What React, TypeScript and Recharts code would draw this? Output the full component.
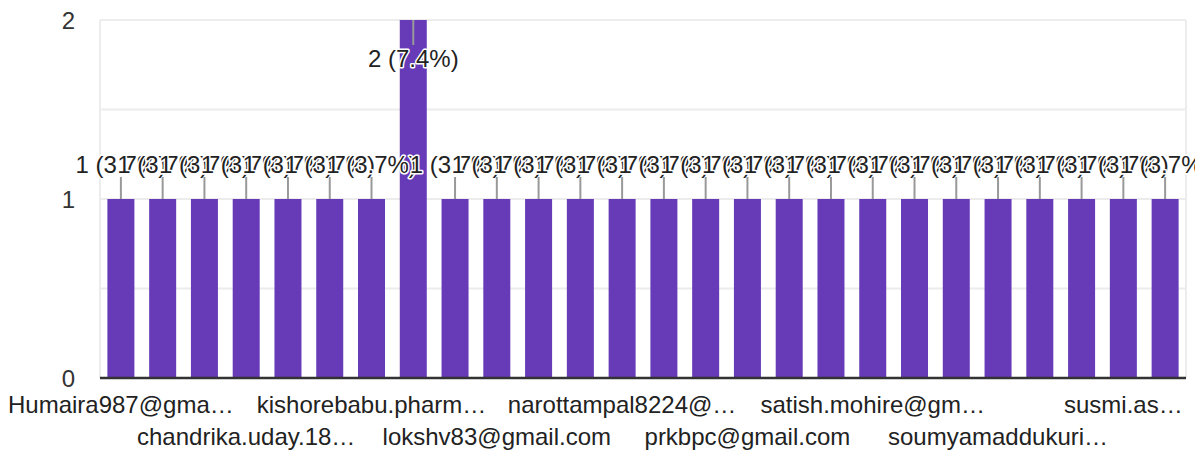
import React from "react";
import { BarChart, Bar, XAxis, YAxis, CartesianGrid, LabelList } from "recharts";

// Categories (respondents). Only every third label is visible in the reference;
// the hidden ones are placeholders because they cannot be read.
const categories: string[] = [
  "Humaira987@gma…",
  "respondent-02",
  "respondent-03",
  "chandrika.uday.18…",
  "respondent-05",
  "respondent-06",
  "kishorebabu.pharm…",
  "respondent-08",
  "respondent-09",
  "lokshv83@gmail.com",
  "respondent-11",
  "respondent-12",
  "narottampal8224@…",
  "respondent-14",
  "respondent-15",
  "prkbpc@gmail.com",
  "respondent-17",
  "respondent-18",
  "satish.mohire@gm…",
  "respondent-20",
  "respondent-21",
  "soumyamaddukuri…",
  "respondent-23",
  "respondent-24",
  "susmi.as…",
  "respondent-26",
];

const responses: number[] = [1, 1, 1, 1, 1, 1, 1, 2, 1, 1, 1, 1, 1, 1, 1, 1, 1, 1, 1, 1, 1, 1, 1, 1, 1, 1];

const yTicks: number[] = [0, 0.5, 1, 1.5, 2];
const yTickLabels: string[] = ["0", "", "1", "", "2"];

const total = responses.reduce((a, b) => a + b, 0);
const data = categories.map((name, i) => ({ name, value: responses[i] }));

const FONT = "'Liberation Sans', Arial, Helvetica, sans-serif";
const FONT_SIZE = 24;
const BAR_COLOR = "#673ab7";
const PLOT_TOP = 20;

const renderLabel = (props: any) => {
  const { x, y, width, value } = props;
  const cx = Number(x) + Number(width) / 2;
  const top = Number(y);
  const pct = ((Number(value) / total) * 100).toFixed(1);
  const text = `${value} (${pct}%)`;
  const fitsAbove = top - 40 >= PLOT_TOP;
  const lineY1 = fitsAbove ? top - 22 : top;
  const lineY2 = fitsAbove ? top : top + 25;
  const textY = fitsAbove ? top - 25.7 : top + 46.7;
  return (
    <g>
      <text
        x={cx}
        y={textY}
        textAnchor="middle"
        fontFamily={FONT}
        fontSize={FONT_SIZE}
        fill="#222"
        stroke="#fff"
        strokeWidth={3}
        strokeLinejoin="round"
        paintOrder="stroke"
      >
        {text}
      </text>
      <line x1={cx} x2={cx} y1={lineY1} y2={lineY2} stroke="#999" strokeWidth={2} />
    </g>
  );
};

const XTick = (props: any) => {
  const { x, y, payload } = props;
  const idx: number = payload?.index ?? props.index ?? 0;
  if (idx % 3 !== 0) return null;
  const row = (idx / 3) % 2;
  return (
    <text
      x={x}
      y={Number(y) + (row === 0 ? 35 : 67)}
      textAnchor="middle"
      fontFamily={FONT}
      fontSize={FONT_SIZE}
      fill="#222"
    >
      {payload.value}
    </text>
  );
};

const YTick = (props: any) => {
  const { x, y, payload } = props;
  const i = yTicks.indexOf(payload.value);
  const label = i >= 0 ? yTickLabels[i] : "";
  if (!label) return null;
  return (
    <text
      x={x}
      y={Number(y) + 9}
      textAnchor="end"
      fontFamily={FONT}
      fontSize={FONT_SIZE}
      fill="#333"
    >
      {label}
    </text>
  );
};

export default function App() {
  return (
    <div style={{ position: "absolute", left: 0, top: 0, width: 1195, height: 452, background: "#fff" }}>
      <BarChart
        width={1195}
        height={452}
        data={data}
        margin={{ top: PLOT_TOP, right: 9, bottom: 0, left: 0 }}
        barCategoryGap="17.7%"
      >
        <CartesianGrid
          stroke="#ececec"
          strokeWidth={2}
          horizontal={true}
          vertical={true}
          verticalCoordinatesGenerator={(p: any) => [p.offset.left, p.offset.left + p.offset.width]}
        />
        <YAxis
          type="number"
          domain={[0, 2]}
          ticks={yTicks}
          interval={0}
          width={100}
          axisLine={false}
          tickLine={false}
          tickSize={0}
          tickMargin={25}
          tick={<YTick />}
        />
        <XAxis
          dataKey="name"
          interval={0}
          height={74}
          tickLine={false}
          tickSize={0}
          tickMargin={0}
          axisLine={{ stroke: "#333", strokeWidth: 2.5 }}
          tick={<XTick />}
        />
        <Bar dataKey="value" fill={BAR_COLOR} isAnimationActive={false}>
          <LabelList dataKey="value" content={renderLabel} />
        </Bar>
      </BarChart>
    </div>
  );
}
